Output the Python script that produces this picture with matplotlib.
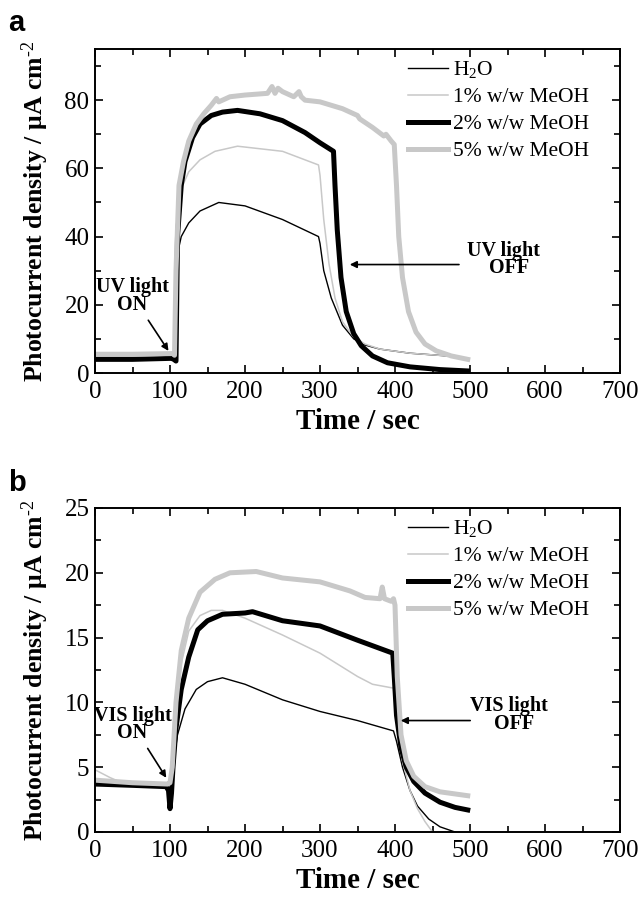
import matplotlib
matplotlib.use('Agg')
import matplotlib.pyplot as plt
from matplotlib.ticker import MultipleLocator

plt.rcParams['font.family'] = ['Liberation Serif', 'DejaVu Serif']
plt.rcParams['mathtext.fontset'] = 'custom'
plt.rcParams['mathtext.rm'] = 'Liberation Serif'
plt.rcParams['mathtext.it'] = 'Liberation Serif:italic'
plt.rcParams['mathtext.bf'] = 'Liberation Serif:bold'

# ---- panel a: UV light ----
t_h2o_a = [0, 50, 104, 106, 108, 110, 115, 125, 140, 165, 200, 250, 298, 300, 305, 315, 330, 345, 360, 380, 420, 470]
h2o_a = [4, 4, 4.2, 3.5, 20, 35, 40, 44, 47.5, 50, 49, 45, 40, 38, 30, 22, 14, 10, 8.2, 7, 5.8, 5]

t_m1_a = [0, 50, 104, 106, 108, 110, 115, 125, 140, 160, 190, 250, 298, 300, 305, 312, 320, 330, 345, 360, 380, 420, 470]
m1_a = [5, 5, 5.2, 4.5, 30, 50, 54, 59, 62.5, 65, 66.5, 65, 61, 58, 45, 32, 22, 15, 10.5, 8.5, 7, 5.8, 5]

t_m2_a = [0, 50, 102, 105, 108, 110, 115, 120, 130, 140, 155, 170, 190, 220, 250, 280, 300, 318, 320, 323,
          328, 335, 345, 355, 370, 390, 420, 460, 497]
m2_a = [4, 4, 4.3, 4.0, 3.5, 40, 55, 62, 69, 73, 75.5, 76.5, 77, 76, 74, 70.5, 67.5, 65, 55, 42,
        28, 18, 11.5, 8, 5, 3, 1.8, 1.0, 0.6]

t_m5_a = [0, 50, 104, 106, 108, 112, 118, 125, 135, 145, 155, 162, 165, 180, 200, 230, 236, 240, 244, 250,
          265, 272, 275, 280, 300, 330, 350, 353, 370, 385, 388, 395, 399, 402, 405, 410, 418, 428, 440,
          455, 475, 497]
m5_a = [5.5, 5.5, 5.7, 5.2, 30, 55, 62, 68, 73, 76, 78.5, 80.5, 79.5, 81, 81.5, 82, 84, 82, 83.5, 82.5,
        81, 82.5, 81, 80, 79.5, 77.5, 75.5, 74.5, 72, 69.5, 70, 68, 67, 55, 40, 28, 18, 12, 8.5,
        6.5, 5, 4]

# ---- panel b: VIS light ----
t_h2o_b = [0, 50, 97, 100, 102, 105, 110, 120, 135, 150, 170, 200, 250, 300, 350, 398, 402, 410, 420,
           430, 445, 460, 480, 490]
h2o_b = [3.7, 3.6, 3.5, 3.0, 3.5, 5.5, 7.5, 9.5, 11, 11.6, 11.9, 11.4, 10.2, 9.3, 8.6, 7.8, 7.0, 5, 3.2,
         2.0, 1.0, 0.4, 0.0, -0.2]

t_m1_b = [0, 20, 40, 97, 100, 103, 108, 115, 125, 140, 155, 170, 200, 250, 300, 350, 370, 398, 402, 410,
          420, 430, 440, 450, 460]
m1_b = [4.8, 4.2, 3.7, 3.4, 3.3, 5, 9, 13, 15.5, 16.7, 17.1, 17.1, 16.5, 15.2, 13.8, 12, 11.4, 11.1, 8.5, 5.5,
        3.2, 1.8, 0.8, 0, -0.5]

t_m2_b = [0, 50, 95, 98, 100, 102, 104, 108, 115, 125, 137, 150, 170, 200, 210, 250, 300, 350, 397, 399,
          402, 408, 415, 425, 440, 460, 480, 497]
m2_b = [3.7, 3.6, 3.5, 3.2, 1.8, 3.0, 5, 8, 11, 13.5, 15.6, 16.3, 16.8, 16.9, 17.0, 16.3, 15.9, 14.8, 13.8, 12,
        9, 6.5, 5.0, 3.9, 3.0, 2.3, 1.9, 1.7]

t_m5_b = [0, 50, 97, 100, 103, 108, 115, 125, 140, 160, 180, 215, 250, 300, 340, 360, 380, 383, 386, 395,
          398, 400, 403, 408, 415, 425, 440, 460, 497]
m5_b = [4.0, 3.8, 3.7, 3.8, 5, 10, 14, 16.5, 18.5, 19.5, 20, 20.1, 19.6, 19.3, 18.6, 18.1, 18.0, 18.9, 18.0, 17.8,
        18.0, 17.5, 12, 7.5, 5.5, 4.3, 3.5, 3.1, 2.8]

labels = ['H$_2$O', '1% w/w MeOH', '2% w/w MeOH', '5% w/w MeOH']
GRAY = '#c8c8c8'
styles = [dict(color='black', lw=1.0), dict(color=GRAY, lw=1.1),
          dict(color='black', lw=3.6), dict(color=GRAY, lw=3.6)]

fig = plt.figure(figsize=(6.44, 9.0), dpi=100)
ax_a = fig.add_axes([95 / 644, 1 - 373 / 900, 525 / 644, 324 / 900])
ax_b = fig.add_axes([95 / 644, 1 - 832 / 900, 525 / 644, 324 / 900])


def draw(ax, series, ymax, ymajor, yminor):
    for (t, v), lab, st in zip(series, labels, styles):
        ax.plot(t, v, label=lab, solid_joinstyle='round', **st)
    ax.set_xlim(0, 700)
    ax.set_ylim(0, ymax)
    ax.xaxis.set_major_locator(MultipleLocator(100))
    ax.xaxis.set_minor_locator(MultipleLocator(50))
    ax.yaxis.set_major_locator(MultipleLocator(ymajor))
    ax.yaxis.set_minor_locator(MultipleLocator(yminor))
    ax.tick_params(which='both', direction='in', top=True, right=True, labelsize=18, width=1.2)
    ax.tick_params(which='major', length=6)
    ax.tick_params(which='minor', length=4)
    ax.tick_params(axis='x', pad=6)
    ax.tick_params(axis='y', pad=4)
    for s in ax.spines.values():
        s.set_linewidth(1.4)
    ax.set_xlabel('Time / sec', fontsize=21, fontweight='bold', labelpad=3)
    ax.set_ylabel(r'Photocurrent density / μA cm$^{\text{-2}}$', fontsize=18.5, fontweight='bold', labelpad=10)
    ax.legend(loc='upper right', bbox_to_anchor=(0.97, 1.015), frameon=False, fontsize=15.5,
              handlelength=1.85, handletextpad=0.25, labelspacing=0.32, borderpad=0.2)


draw(ax_a, [(t_h2o_a, h2o_a), (t_m1_a, m1_a), (t_m2_a, m2_a), (t_m5_a, m5_a)], 95, 20, 10)
draw(ax_b, [(t_h2o_b, h2o_b), (t_m1_b, m1_b), (t_m2_b, m2_b), (t_m5_b, m5_b)], 25, 5, 2.5)

arrow = dict(arrowstyle='-|>', color='black', lw=1.2, mutation_scale=10)
note = dict(fontsize=14.5, fontweight='bold', ha='center', va='center', linespacing=0.85)

ax_a.annotate('UV light\nON', xy=(100, 5.8), xytext=(50, 22.5), arrowprops=arrow, **note)
ax_a.annotate('', xy=(336, 31.8), xytext=(489, 31.8), arrowprops=arrow)
ax_a.text(545, 33.3, 'UV light\n  OFF', **note)

ax_b.annotate('VIS light\nON', xy=(97, 4.0), xytext=(50, 8.3), arrowprops=arrow, **note)
ax_b.annotate('', xy=(404, 8.6), xytext=(504, 8.6), arrowprops=arrow)
ax_b.text(552, 9.0, 'VIS light\n  OFF', **note)

fig.text(8 / 644, 1 - 23 / 900, 'a', family='Liberation Sans', fontsize=21, fontweight='bold', va='center')
fig.text(8 / 644, 1 - 483 / 900, 'b', family='Liberation Sans', fontsize=21, fontweight='bold', va='center')

fig.savefig('out.png', dpi=100)
